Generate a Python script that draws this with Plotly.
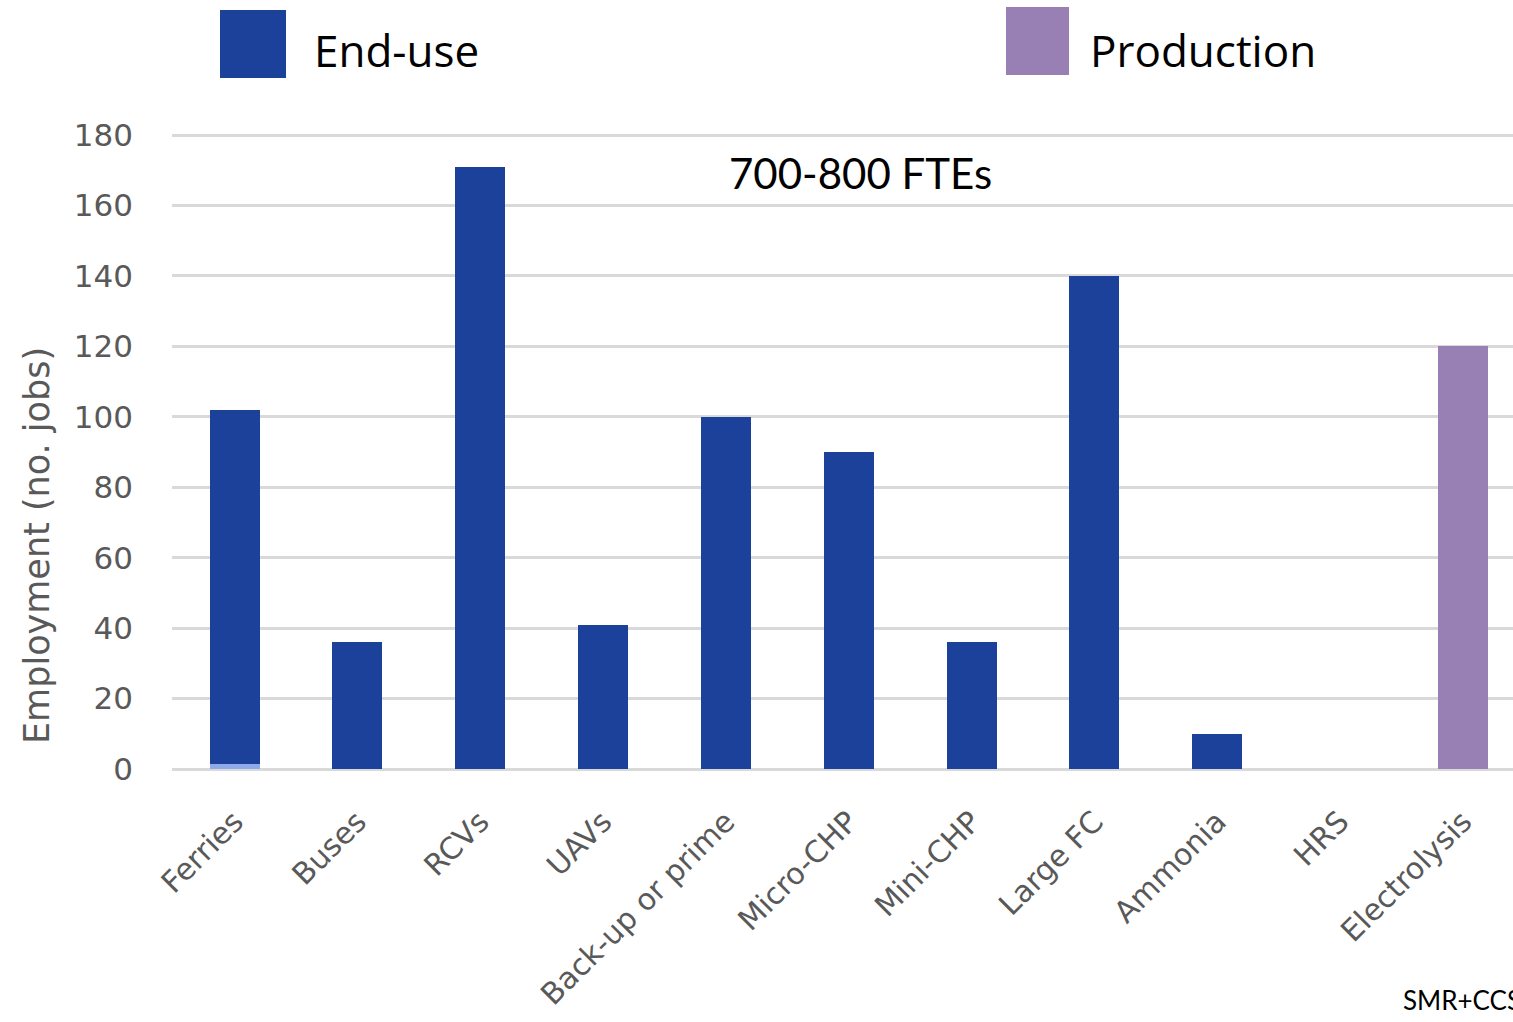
import plotly.graph_objects as go

categories = ["Ferries", "Buses", "RCVs", "UAVs", "Back-up or prime", "Micro-CHP",
              "Mini-CHP", "Large FC", "Ammonia", "HRS", "Electrolysis"]
enduse_base = [1.5, None, None, None, None, None, None, None, None, None, None]
enduse = [100.5, 36, 171, 41, 100, 90, 36, 140, 10, 0, None]
production = [None, None, None, None, None, None, None, None, None, None, 120]
y_ticks = [0, 20, 40, 60, 80, 100, 120, 140, 160, 180]

BLUE = "#1b419a"
PURPLE = "#9880b5"
LIGHT = "#8faae8"
GRAY = "#595959"
FONT = "Open Sans"
TFONT = "DejaVu Sans"

fig = go.Figure()
fig.add_trace(go.Bar(x=categories, y=enduse_base, marker_color=LIGHT, showlegend=False,
                     marker_line_width=0, name="End-use (base)"))
fig.add_trace(go.Bar(x=categories, y=enduse, marker_color=BLUE, name="End-use",
                     marker_line_width=0, showlegend=False))
fig.add_trace(go.Bar(x=categories, y=production, marker_color=PURPLE, name="Production",
                     marker_line_width=0, showlegend=False))

W, H = 1513, 1022
L, R, T, B = 172, 0, 133, 253
pw, ph = W - L - R, H - T - B
ytop = 180 * ph / (769 - 135)

def px_x(p):
    return (p - L) / pw

def px_y(p):
    return (H - B - p) / ph

shapes = [
    dict(type="rect", xref="paper", yref="paper", x0=px_x(220), x1=px_x(286),
         y0=px_y(78), y1=px_y(10), fillcolor=BLUE, line_width=0),
    dict(type="rect", xref="paper", yref="paper", x0=px_x(1006), x1=px_x(1069),
         y0=px_y(75), y1=px_y(7), fillcolor=PURPLE, line_width=0),
]

annotations = [
    dict(text="End-use", xref="paper", yref="paper", x=px_x(312), y=px_y(50),
         xanchor="left", yanchor="middle", showarrow=False,
         font=dict(family=FONT, size=44, color="#000000")),
    dict(text="Production", xref="paper", yref="paper", x=px_x(1088), y=px_y(50),
         xanchor="left", yanchor="middle", showarrow=False,
         font=dict(family=FONT, size=44, color="#000000")),
    dict(text="700-800 FTEs", xref="paper", yref="paper", x=px_x(860), y=px_y(173),
         xanchor="center", yanchor="middle", showarrow=False,
         font=dict(family="Lato", size=42, color="#000000")),
    dict(text="SMR+CCS", xref="paper", yref="paper", x=px_x(1401), y=px_y(1000),
         xanchor="left", yanchor="middle", showarrow=False,
         font=dict(family="Lato", size=26, color="#000000")),
    dict(text="Employment (no. jobs)", xref="paper", yref="paper", x=px_x(37), y=px_y(546),
         xanchor="center", yanchor="middle", showarrow=False, textangle=-90,
         font=dict(family=TFONT, size=35, color=GRAY)),
]

fig.update_layout(
    width=W, height=H,
    margin=dict(l=L, r=R, t=T, b=B, pad=0),
    plot_bgcolor="white", paper_bgcolor="white",
    barmode="stack", bargap=0.593,
    shapes=shapes, annotations=annotations,
    showlegend=False,
    xaxis=dict(type="category", range=[-0.509, 10.407], tickangle=-45,
               tickfont=dict(family=TFONT, size=30, color=GRAY),
               ticklabelstandoff=28,
               showgrid=False, showline=False, ticks="", zeroline=False),
    yaxis=dict(range=[0, ytop], tickvals=y_ticks, showgrid=True, gridcolor="#d9d9d9",
               gridwidth=2.5, zeroline=True, zerolinecolor="#d9d9d9", zerolinewidth=2.5,
               tickfont=dict(family=TFONT, size=31, color=GRAY), ticks="",
               ticklabelstandoff=38),
)

fig.write_html("out.html")
